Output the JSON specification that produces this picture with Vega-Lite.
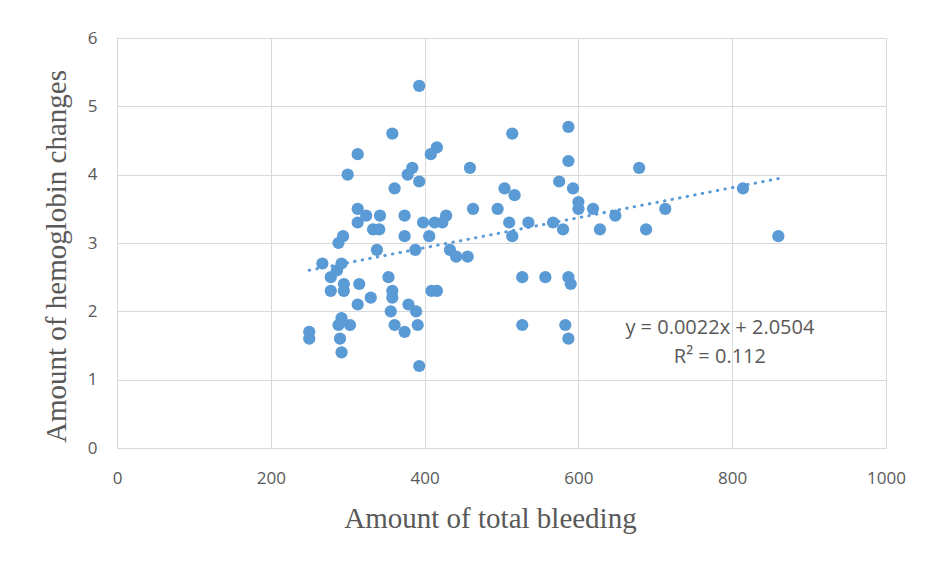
{
  "$schema": "https://vega.github.io/schema/vega-lite/v6.json",
  "width": 769,
  "height": 410,
  "autosize": {"type": "none"},
  "padding": {"left": 117, "top": 38, "right": 40, "bottom": 115},
  "background": "white",
  "config": {
    "view": {"stroke": "#d9d9d9", "strokeWidth": 1},
    "axis": {
      "gridColor": "#d9d9d9",
      "gridWidth": 1,
      "domainColor": "#d9d9d9",
      "ticks": false,
      "tickSize": 0,
      "labelFlush": false,
      "labelOverlap": false,
      "labelFont": "Open Sans",
      "labelFontSize": 17,
      "labelColor": "#595959",
      "titleFont": "Liberation Serif",
      "titleFontSize": 29,
      "titleFontWeight": "normal",
      "titleColor": "#595959"
    }
  },
  "datasets": {
    "points": [
      {"bleeding": 393, "hb": 5.3}, {"bleeding": 358, "hb": 4.6}, {"bleeding": 313, "hb": 4.3},
      {"bleeding": 416, "hb": 4.4}, {"bleeding": 408, "hb": 4.3}, {"bleeding": 300, "hb": 4.0},
      {"bleeding": 384, "hb": 4.1}, {"bleeding": 378, "hb": 4.0}, {"bleeding": 393, "hb": 3.9},
      {"bleeding": 361, "hb": 3.8}, {"bleeding": 459, "hb": 4.1}, {"bleeding": 313, "hb": 3.5},
      {"bleeding": 324, "hb": 3.4}, {"bleeding": 342, "hb": 3.4}, {"bleeding": 313, "hb": 3.3},
      {"bleeding": 333, "hb": 3.2}, {"bleeding": 341, "hb": 3.2}, {"bleeding": 374, "hb": 3.4},
      {"bleeding": 398, "hb": 3.3}, {"bleeding": 413, "hb": 3.3}, {"bleeding": 423, "hb": 3.3},
      {"bleeding": 428, "hb": 3.4}, {"bleeding": 374, "hb": 3.1}, {"bleeding": 406, "hb": 3.1},
      {"bleeding": 294, "hb": 3.1}, {"bleeding": 288, "hb": 3.0}, {"bleeding": 338, "hb": 2.9},
      {"bleeding": 388, "hb": 2.9}, {"bleeding": 433, "hb": 2.9}, {"bleeding": 441, "hb": 2.8},
      {"bleeding": 456, "hb": 2.8}, {"bleeding": 267, "hb": 2.7}, {"bleeding": 292, "hb": 2.7},
      {"bleeding": 286, "hb": 2.6}, {"bleeding": 278, "hb": 2.5}, {"bleeding": 295, "hb": 2.4},
      {"bleeding": 295, "hb": 2.3}, {"bleeding": 278, "hb": 2.3}, {"bleeding": 315, "hb": 2.4},
      {"bleeding": 330, "hb": 2.2}, {"bleeding": 313, "hb": 2.1}, {"bleeding": 353, "hb": 2.5},
      {"bleeding": 358, "hb": 2.3}, {"bleeding": 358, "hb": 2.2}, {"bleeding": 379, "hb": 2.1},
      {"bleeding": 389, "hb": 2.0}, {"bleeding": 356, "hb": 2.0}, {"bleeding": 361, "hb": 1.8},
      {"bleeding": 374, "hb": 1.7}, {"bleeding": 391, "hb": 1.8}, {"bleeding": 393, "hb": 1.2},
      {"bleeding": 292, "hb": 1.9}, {"bleeding": 288, "hb": 1.8}, {"bleeding": 303, "hb": 1.8},
      {"bleeding": 290, "hb": 1.6}, {"bleeding": 292, "hb": 1.4}, {"bleeding": 250, "hb": 1.7},
      {"bleeding": 250, "hb": 1.6}, {"bleeding": 409, "hb": 2.3}, {"bleeding": 416, "hb": 2.3},
      {"bleeding": 514, "hb": 4.6}, {"bleeding": 587, "hb": 4.7}, {"bleeding": 587, "hb": 4.2},
      {"bleeding": 679, "hb": 4.1}, {"bleeding": 575, "hb": 3.9}, {"bleeding": 593, "hb": 3.8},
      {"bleeding": 504, "hb": 3.8}, {"bleeding": 517, "hb": 3.7}, {"bleeding": 600, "hb": 3.6},
      {"bleeding": 600, "hb": 3.5}, {"bleeding": 463, "hb": 3.5}, {"bleeding": 495, "hb": 3.5},
      {"bleeding": 619, "hb": 3.5}, {"bleeding": 510, "hb": 3.3}, {"bleeding": 535, "hb": 3.3},
      {"bleeding": 567, "hb": 3.3}, {"bleeding": 514, "hb": 3.1}, {"bleeding": 580, "hb": 3.2},
      {"bleeding": 648, "hb": 3.4}, {"bleeding": 628, "hb": 3.2}, {"bleeding": 688, "hb": 3.2},
      {"bleeding": 527, "hb": 2.5}, {"bleeding": 557, "hb": 2.5}, {"bleeding": 587, "hb": 2.5},
      {"bleeding": 590, "hb": 2.4}, {"bleeding": 527, "hb": 1.8}, {"bleeding": 583, "hb": 1.8},
      {"bleeding": 587, "hb": 1.6}, {"bleeding": 814, "hb": 3.8}, {"bleeding": 713, "hb": 3.5},
      {"bleeding": 860, "hb": 3.1}
    ],
    "trend": [
      {"bleeding": 250, "hb": 2.6004},
      {"bleeding": 860, "hb": 3.9424}
    ]
  },
  "layer": [
    {
      "data": {"name": "trend"},
      "mark": {"type": "line", "color": "#5b9bd5", "strokeWidth": 3, "strokeDash": [0.5, 7.2], "strokeCap": "round"},
      "encoding": {
        "x": {"field": "bleeding", "type": "quantitative", "scale": {"domain": [0, 1000], "nice": false},
          "axis": {"values": [0, 200, 400, 600, 800, 1000], "format": "d", "title": "Amount of total bleeding", "labelPadding": 22, "titleX": 373, "titleY": 70, "titleBaseline": "middle"}},
        "y": {"field": "hb", "type": "quantitative", "scale": {"domain": [0, 6], "nice": false},
          "axis": {"values": [0, 1, 2, 3, 4, 5, 6], "format": "d", "title": "Amount of hemoglobin changes", "labelPadding": 20, "titleX": -61, "titleY": 218, "titleBaseline": "middle"}}
      }
    },
    {
      "data": {"name": "points"},
      "mark": {"type": "circle", "color": "#5b9bd5", "opacity": 1, "size": 150},
      "encoding": {
        "x": {"field": "bleeding", "type": "quantitative"},
        "y": {"field": "hb", "type": "quantitative"}
      }
    },
    {
      "data": {"values": [{}]},
      "mark": {"type": "text", "font": "Open Sans", "fontSize": 20, "color": "#595959", "align": "center", "baseline": "middle"},
      "encoding": {
        "x": {"datum": 784, "type": "quantitative"},
        "y": {"datum": 1.76, "type": "quantitative"},
        "text": {"value": "y = 0.0022x + 2.0504"}
      }
    },
    {
      "data": {"values": [{}]},
      "mark": {"type": "text", "font": "Open Sans", "fontSize": 20, "color": "#595959", "align": "center", "baseline": "middle"},
      "encoding": {
        "x": {"datum": 784, "type": "quantitative"},
        "y": {"datum": 1.33, "type": "quantitative"},
        "text": {"value": "R² = 0.112"}
      }
    }
  ]
}
